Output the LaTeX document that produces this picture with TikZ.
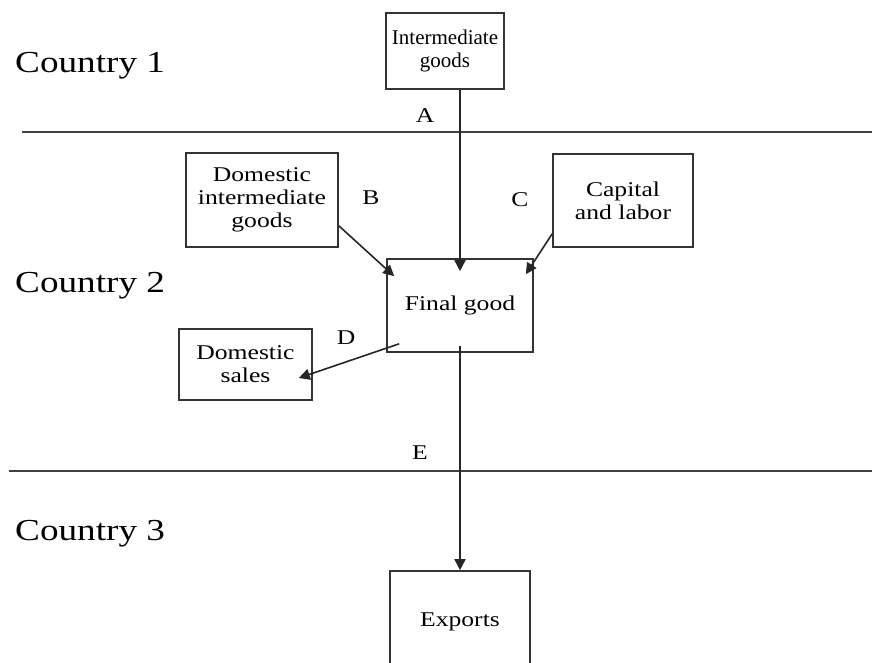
\documentclass[tikz,border=0pt]{standalone}
\usepackage{fontspec}
\setmainfont{Liberation Serif}
\newfontfamily\widefont[FakeStretch=1.22]{Liberation Serif}
\usetikzlibrary{arrows.meta,calc}
\begin{document}
\begin{tikzpicture}[x=1pt,y=-1pt,
  box/.style={draw=black!80, line width=1.6pt, align=center, inner sep=0pt,
    font=\widefont\fontsize{21}{23}\selectfont},
  flow/.style={draw=black!85, line width=1.6pt, -{Triangle[length=11pt,width=11pt]}},
  lbl/.style={font=\widefont\fontsize{21}{23}\selectfont, inner sep=0pt},
  country/.style={font=\widefont\fontsize{30.5}{34}\selectfont, anchor=base west, inner sep=0pt},
  border/.style={draw=black!75, line width=1.6pt}]
\clip (0,0) rectangle (872,663);
\fill[white] (0,0) rectangle (872,663);

% borders
\draw[border] (22,132) -- (872,132);
\draw[border] (9,471) -- (872,471);

% countries
\node[country] (c1) at (15,73) {Country 1};
\node[country] (c2) at (15,292) {Country 2};
\node[country] (c3) at (15,540) {Country 3};

% boxes
\node[box, minimum width=118pt, minimum height=76pt, font=\fontsize{21}{23}\selectfont] (ig) at (445,51) {Intermediate\\goods};
\node[box, minimum width=152pt, minimum height=94pt] (dig) at (262,200) {Domestic\\intermediate\\goods};
\node[box, minimum width=140pt, minimum height=93pt] (cap) at (623,200.5) {Capital\\and labor};
\node[box, minimum width=146pt, minimum height=93pt] (fg) at (460,305.5) {Final good};
\node[box, minimum width=133pt, minimum height=71pt] (ds) at (245.5,364.5) {Domestic\\sales};
\node[box, minimum width=140pt, minimum height=102pt] (ex) at (460,622) {Exports};

% arrows
\draw[flow] (ig.south -| fg.north) -- ($(fg.north)+(0,13)$);
\draw[flow] ($(dig.south east)+(0,-22)$) -- ($(fg.north west)+(8,18)$);
\draw[flow] ($(cap.south west)+(0,-14)$) -- ($(fg.north east)+(-8,16)$);
\draw[flow] ($(fg.south west)+(13,-9)$) -- ($(ds.east)+(-14,13.5)$);
\draw[flow] ($(fg.south)+(0,-7)$) -- (ex.north);

% labels
\node[lbl] (la) at (425,116) {A};
\node[lbl] (lb) at (371,198) {B};
\node[lbl] (lc) at (520,200) {C};
\node[lbl] (ld) at (346,338) {D};
\node[lbl] (le) at (420,453) {E};
\end{tikzpicture}
\end{document}
